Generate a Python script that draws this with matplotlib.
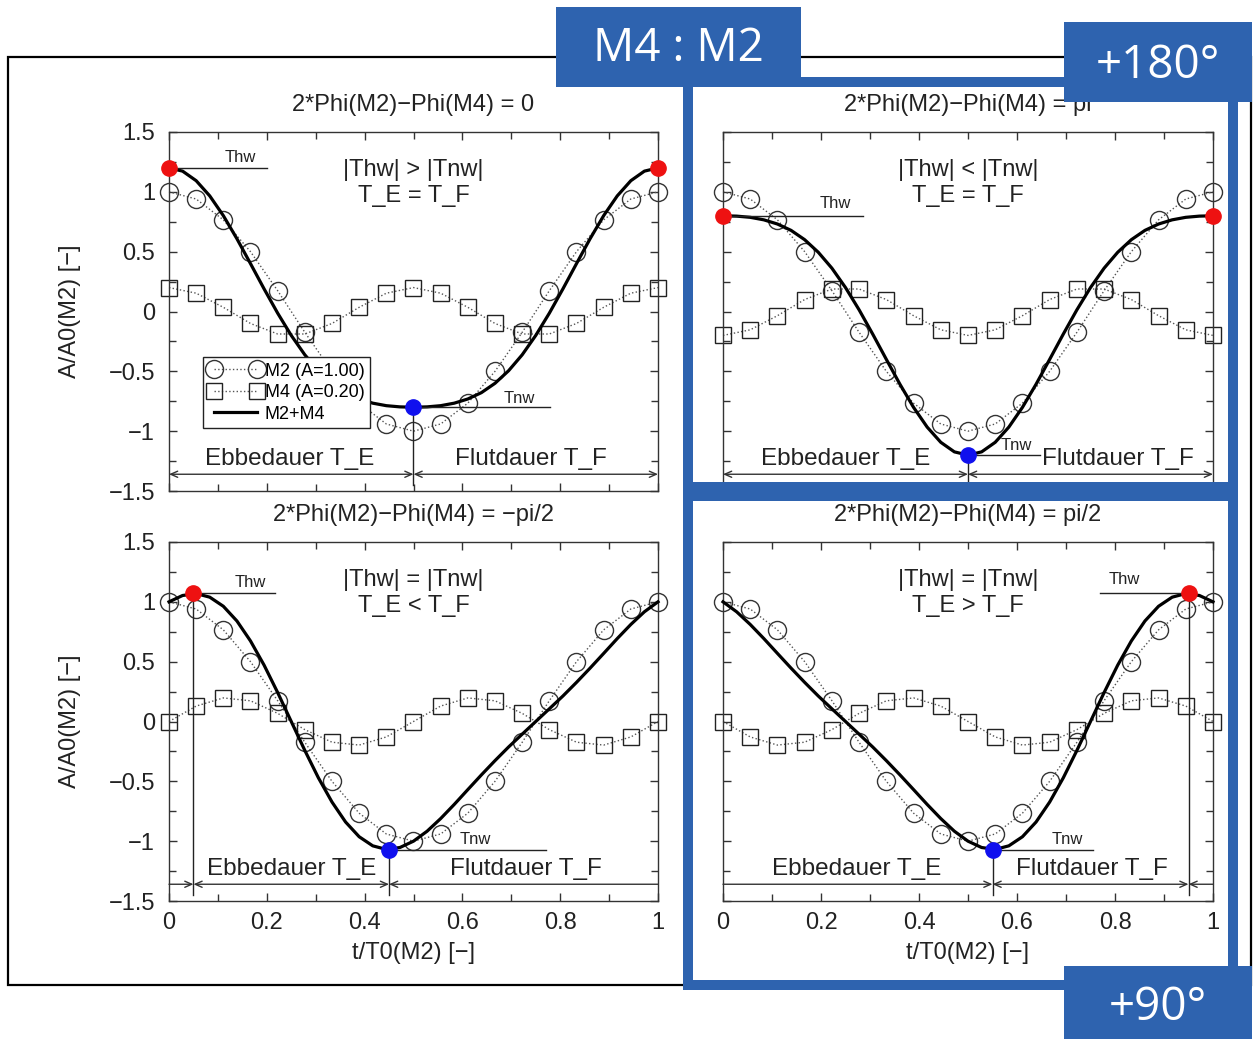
import numpy as np
import matplotlib.pyplot as plt
from matplotlib.patches import Rectangle
from matplotlib.ticker import MultipleLocator

plt.rcParams['font.family'] = ['Liberation Sans', 'DejaVu Sans']

W, H = 1256, 1039

# time axis t/T0(M2), one period sampled every 10 degrees of M2 phase
t = np.linspace(0, 1, 37)

m2 = [1.0, 0.985, 0.94, 0.866, 0.766, 0.643, 0.5, 0.342, 0.174, 0.0,
      -0.174, -0.342, -0.5, -0.643, -0.766, -0.866, -0.94, -0.985, -1.0,
      -0.985, -0.94, -0.866, -0.766, -0.643, -0.5, -0.342, -0.174, 0.0,
      0.174, 0.342, 0.5, 0.643, 0.766, 0.866, 0.94, 0.985, 1.0]

m4_phase_0 = [0.2, 0.188, 0.153, 0.1, 0.035, -0.035, -0.1, -0.153, -0.188, -0.2,
              -0.188, -0.153, -0.1, -0.035, 0.035, 0.1, 0.153, 0.188, 0.2,
              0.188, 0.153, 0.1, 0.035, -0.035, -0.1, -0.153, -0.188, -0.2,
              -0.188, -0.153, -0.1, -0.035, 0.035, 0.1, 0.153, 0.188, 0.2]
m4_phase_pi = [-0.2, -0.188, -0.153, -0.1, -0.035, 0.035, 0.1, 0.153, 0.188, 0.2,
               0.188, 0.153, 0.1, 0.035, -0.035, -0.1, -0.153, -0.188, -0.2,
               -0.188, -0.153, -0.1, -0.035, 0.035, 0.1, 0.153, 0.188, 0.2,
               0.188, 0.153, 0.1, 0.035, -0.035, -0.1, -0.153, -0.188, -0.2]
m4_phase_mpi2 = [0.0, 0.068, 0.129, 0.173, 0.197, 0.197, 0.173, 0.129, 0.068, 0.0,
                 -0.068, -0.129, -0.173, -0.197, -0.197, -0.173, -0.129, -0.068, 0.0,
                 0.068, 0.129, 0.173, 0.197, 0.197, 0.173, 0.129, 0.068, 0.0,
                 -0.068, -0.129, -0.173, -0.197, -0.197, -0.173, -0.129, -0.068, 0.0]
m4_phase_pi2 = [0.0, -0.068, -0.129, -0.173, -0.197, -0.197, -0.173, -0.129, -0.068, 0.0,
                0.068, 0.129, 0.173, 0.197, 0.197, 0.173, 0.129, 0.068, 0.0,
                -0.068, -0.129, -0.173, -0.197, -0.197, -0.173, -0.129, -0.068, 0.0,
                0.068, 0.129, 0.173, 0.197, 0.197, 0.173, 0.129, 0.068, 0.0]

m4_series = [m4_phase_0, m4_phase_pi, m4_phase_mpi2, m4_phase_pi2]

titles = ['2*Phi(M2)\u2212Phi(M4) = 0', '2*Phi(M2)\u2212Phi(M4) = pi',
          '2*Phi(M2)\u2212Phi(M4) = \u2212pi/2', '2*Phi(M2)\u2212Phi(M4) = pi/2']
cond_1 = ['|Thw| > |Tnw|', '|Thw| < |Tnw|', '|Thw| = |Tnw|', '|Thw| = |Tnw|']
cond_2 = ['T_E = T_F', 'T_E = T_F', 'T_E < T_F', 'T_E > T_F']

# high water / low water points
hw_t = [[0.0, 1.0], [0.0, 1.0], [0.05], [0.95]]
hw_val = [1.2, 0.8, 1.07, 1.07]
nw_t = [0.5, 0.5, 0.45, 0.55]
nw_val = [-0.8, -1.2, -1.07, -1.07]

# Thw / Tnw marker lines (start, end) and label positions
thw_line = [(0.0, 0.2), (0.0, 0.285), (0.05, 0.217), (0.77, 0.95)]
thw_label = [(0.145, 1.29), (0.23, 0.905), (0.166, 1.165), (0.82, 1.19)]
tnw_line = [(0.5, 0.78), (0.5, 0.647), (0.45, 0.77), (0.55, 0.755)]
tnw_label = [(0.716, -0.73), (0.598, -1.12), (0.626, -0.99), (0.702, -0.99)]

# ebb / flood duration arrows (start, end, style)
durations = [[(0.0, 0.5, '<->'), (0.5, 1.0, '<->')],
             [(0.0, 0.5, '<->'), (0.5, 1.0, '<->')],
             [(0.0, 0.05, '->'), (0.05, 0.45, '<->'), (0.45, 1.0, '<-')],
             [(0.0, 0.55, '->'), (0.55, 0.95, '<->'), (0.95, 1.0, '<-')]]
ebb_x = [0.247, 0.25, 0.25, 0.273]
flut_x = [0.74, 0.806, 0.73, 0.753]

x_ticks = [0, 0.2, 0.4, 0.6, 0.8, 1.0]
x_tick_labels = ['0', '0.2', '0.4', '0.6', '0.8', '1']
y_ticks = [-1.5, -1.0, -0.5, 0, 0.5, 1.0, 1.5]
y_tick_labels = ['\u22121.5', '\u22121', '\u22120.5', '0', '0.5', '1', '1.5']


def px_rect(x0, y0, x1, y1):
    return [x0 / W, 1 - y1 / H, (x1 - x0) / W, (y1 - y0) / H]


fig = plt.figure(figsize=(W / 100, H / 100), dpi=100)
boxes = [(169, 132, 658, 491), (723, 132, 1213, 491),
         (169, 542, 658, 901), (723, 542, 1213, 901)]
axes = [fig.add_axes(px_rect(*b)) for b in boxes]

txt = '#222222'
m2 = np.array(m2)

for i, ax in enumerate(axes):
    m4 = np.array(m4_series[i])
    total = m2 + m4

    l_m2, = ax.plot(t[::2], m2[::2], ls=':', lw=1.0, color='#555555', marker='o', ms=13,
                    mfc='none', mec='#333333', mew=1.0, clip_on=False, zorder=2)
    l_m4, = ax.plot(t[::2], m4[::2], ls=':', lw=1.0, color='#555555', marker='s', ms=12,
                    mfc='none', mec='#222222', mew=1.0, clip_on=False, zorder=2)
    l_sum, = ax.plot(t, total, color='black', lw=2.3, zorder=3, clip_on=False)

    ax.plot(hw_t[i], [hw_val[i]] * len(hw_t[i]), 'o', color='#ee1111', ms=11,
            clip_on=False, zorder=5)
    ax.plot([nw_t[i]], [nw_val[i]], 'o', color='#1010ee', ms=11, clip_on=False, zorder=5)

    # vertical lines at extremes inside the period
    for tv, yv in [(tt, hw_val[i]) for tt in hw_t[i]] + [(nw_t[i], nw_val[i])]:
        if 0 < tv < 1:
            ax.plot([tv, tv], [yv, -1.45], color='#222222', lw=1.0, zorder=3)

    # Thw / Tnw
    ax.plot(thw_line[i], [hw_val[i]] * 2, color='#222222', lw=1.0, zorder=3)
    ax.text(*thw_label[i], 'Thw', fontsize=12, ha='center', va='center', color=txt)
    ax.plot(tnw_line[i], [nw_val[i]] * 2, color='#222222', lw=1.0, zorder=3)
    ax.text(*tnw_label[i], 'Tnw', fontsize=12, ha='center', va='center', color=txt)

    # durations
    for a, b, style in durations[i]:
        ax.annotate('', xy=(b, -1.36), xytext=(a, -1.36),
                    arrowprops=dict(arrowstyle=style + ',head_length=0.5,head_width=0.22',
                                    color='#333333', lw=1.0, shrinkA=0, shrinkB=0))
    ax.text(ebb_x[i], -1.23, 'Ebbedauer T_E', fontsize=17.5, ha='center', va='center', color=txt)
    ax.text(flut_x[i], -1.23, 'Flutdauer T_F', fontsize=17.5, ha='center', va='center', color=txt)

    ax.text(0.5, 1.18, cond_1[i], fontsize=17, ha='center', va='center', color=txt)
    ax.text(0.5, 0.965, cond_2[i], fontsize=17, ha='center', va='center', color=txt)

    ax.set_xlim(0, 1)
    ax.set_ylim(-1.5, 1.5)
    ax.set_xticks(x_ticks)
    ax.set_yticks(y_ticks)
    ax.xaxis.set_minor_locator(MultipleLocator(0.1))
    ax.yaxis.set_minor_locator(MultipleLocator(0.25))
    ax.tick_params(which='both', direction='in', top=True, right=True, color='#333333',
                   labelsize=17, labelcolor=txt)
    ax.tick_params(which='major', length=6, width=1.0)
    ax.tick_params(which='minor', length=5, width=1.0)
    ax.tick_params(axis='x', pad=8)
    ax.tick_params(axis='y', pad=10)
    for sp in ax.spines.values():
        sp.set_color('#333333')
        sp.set_linewidth(1.0)

    if i in (0, 2):
        ax.set_yticklabels(y_tick_labels)
        ax.set_ylabel('A/A0(M2) [\u2212]', fontsize=17, color=txt)
        ax.yaxis.set_label_coords(-0.18, 0.5)
    else:
        ax.tick_params(labelleft=False)
    if i in (2, 3):
        ax.set_xticklabels(x_tick_labels)
        ax.set_xlabel('t/T0(M2) [\u2212]', fontsize=17, color=txt)
        ax.xaxis.set_label_coords(0.5, -0.115)
    else:
        ax.tick_params(labelbottom=False)

    ax.set_title(titles[i], fontsize=17, color=txt, pad=15)

    if i == 0:
        leg = ax.legend([l_m2, l_m4, l_sum], ['M2 (A=1.00)', 'M4 (A=0.20)', 'M2+M4'],
                        loc='upper left', bbox_to_anchor=(0.07, 0.373), borderaxespad=0,
                        numpoints=2, fontsize=13, handlelength=3.0, handletextpad=0.1,
                        labelspacing=0.25, borderpad=0.3, fancybox=False,
                        framealpha=1, edgecolor='#222222')
        leg.get_frame().set_linewidth(1.0)
        leg.set_zorder(6)

# outer black frame
fig.add_artist(Rectangle((8 / W, 1 - 985 / H), 1243 / W, 928 / H, transform=fig.transFigure,
                         fill=False, edgecolor='black', lw=1.6, zorder=9))

blue = '#2E63AF'
# blue frames around right column
for y0, y1 in [(82, 487), (496, 985)]:
    fig.add_artist(Rectangle((688 / W, 1 - y1 / H), 545 / W, (y1 - y0) / H,
                             transform=fig.transFigure, fill=False, edgecolor=blue,
                             lw=7.2, zorder=10))

# labels in blue boxes: box corners, label, text centre y
for (x0, y0, x1, y1), label, ty in [((556, 7, 801, 87), 'M4 : M2', 49),
                                    ((1064, 22, 1252, 102), '+180\u00b0', 66),
                                    ((1064, 966, 1252, 1039), '+90\u00b0', 1008)]:
    fig.add_artist(Rectangle((x0 / W, 1 - y1 / H), (x1 - x0) / W, (y1 - y0) / H,
                             transform=fig.transFigure, facecolor=blue, edgecolor='none',
                             zorder=11))
    fig.text((x0 + x1) / 2 / W, 1 - ty / H, label, fontsize=33, color='white',
             ha='center', va='center', family=['Open Sans', 'DejaVu Sans'], zorder=12)

fig.savefig('out.png', dpi=100)
